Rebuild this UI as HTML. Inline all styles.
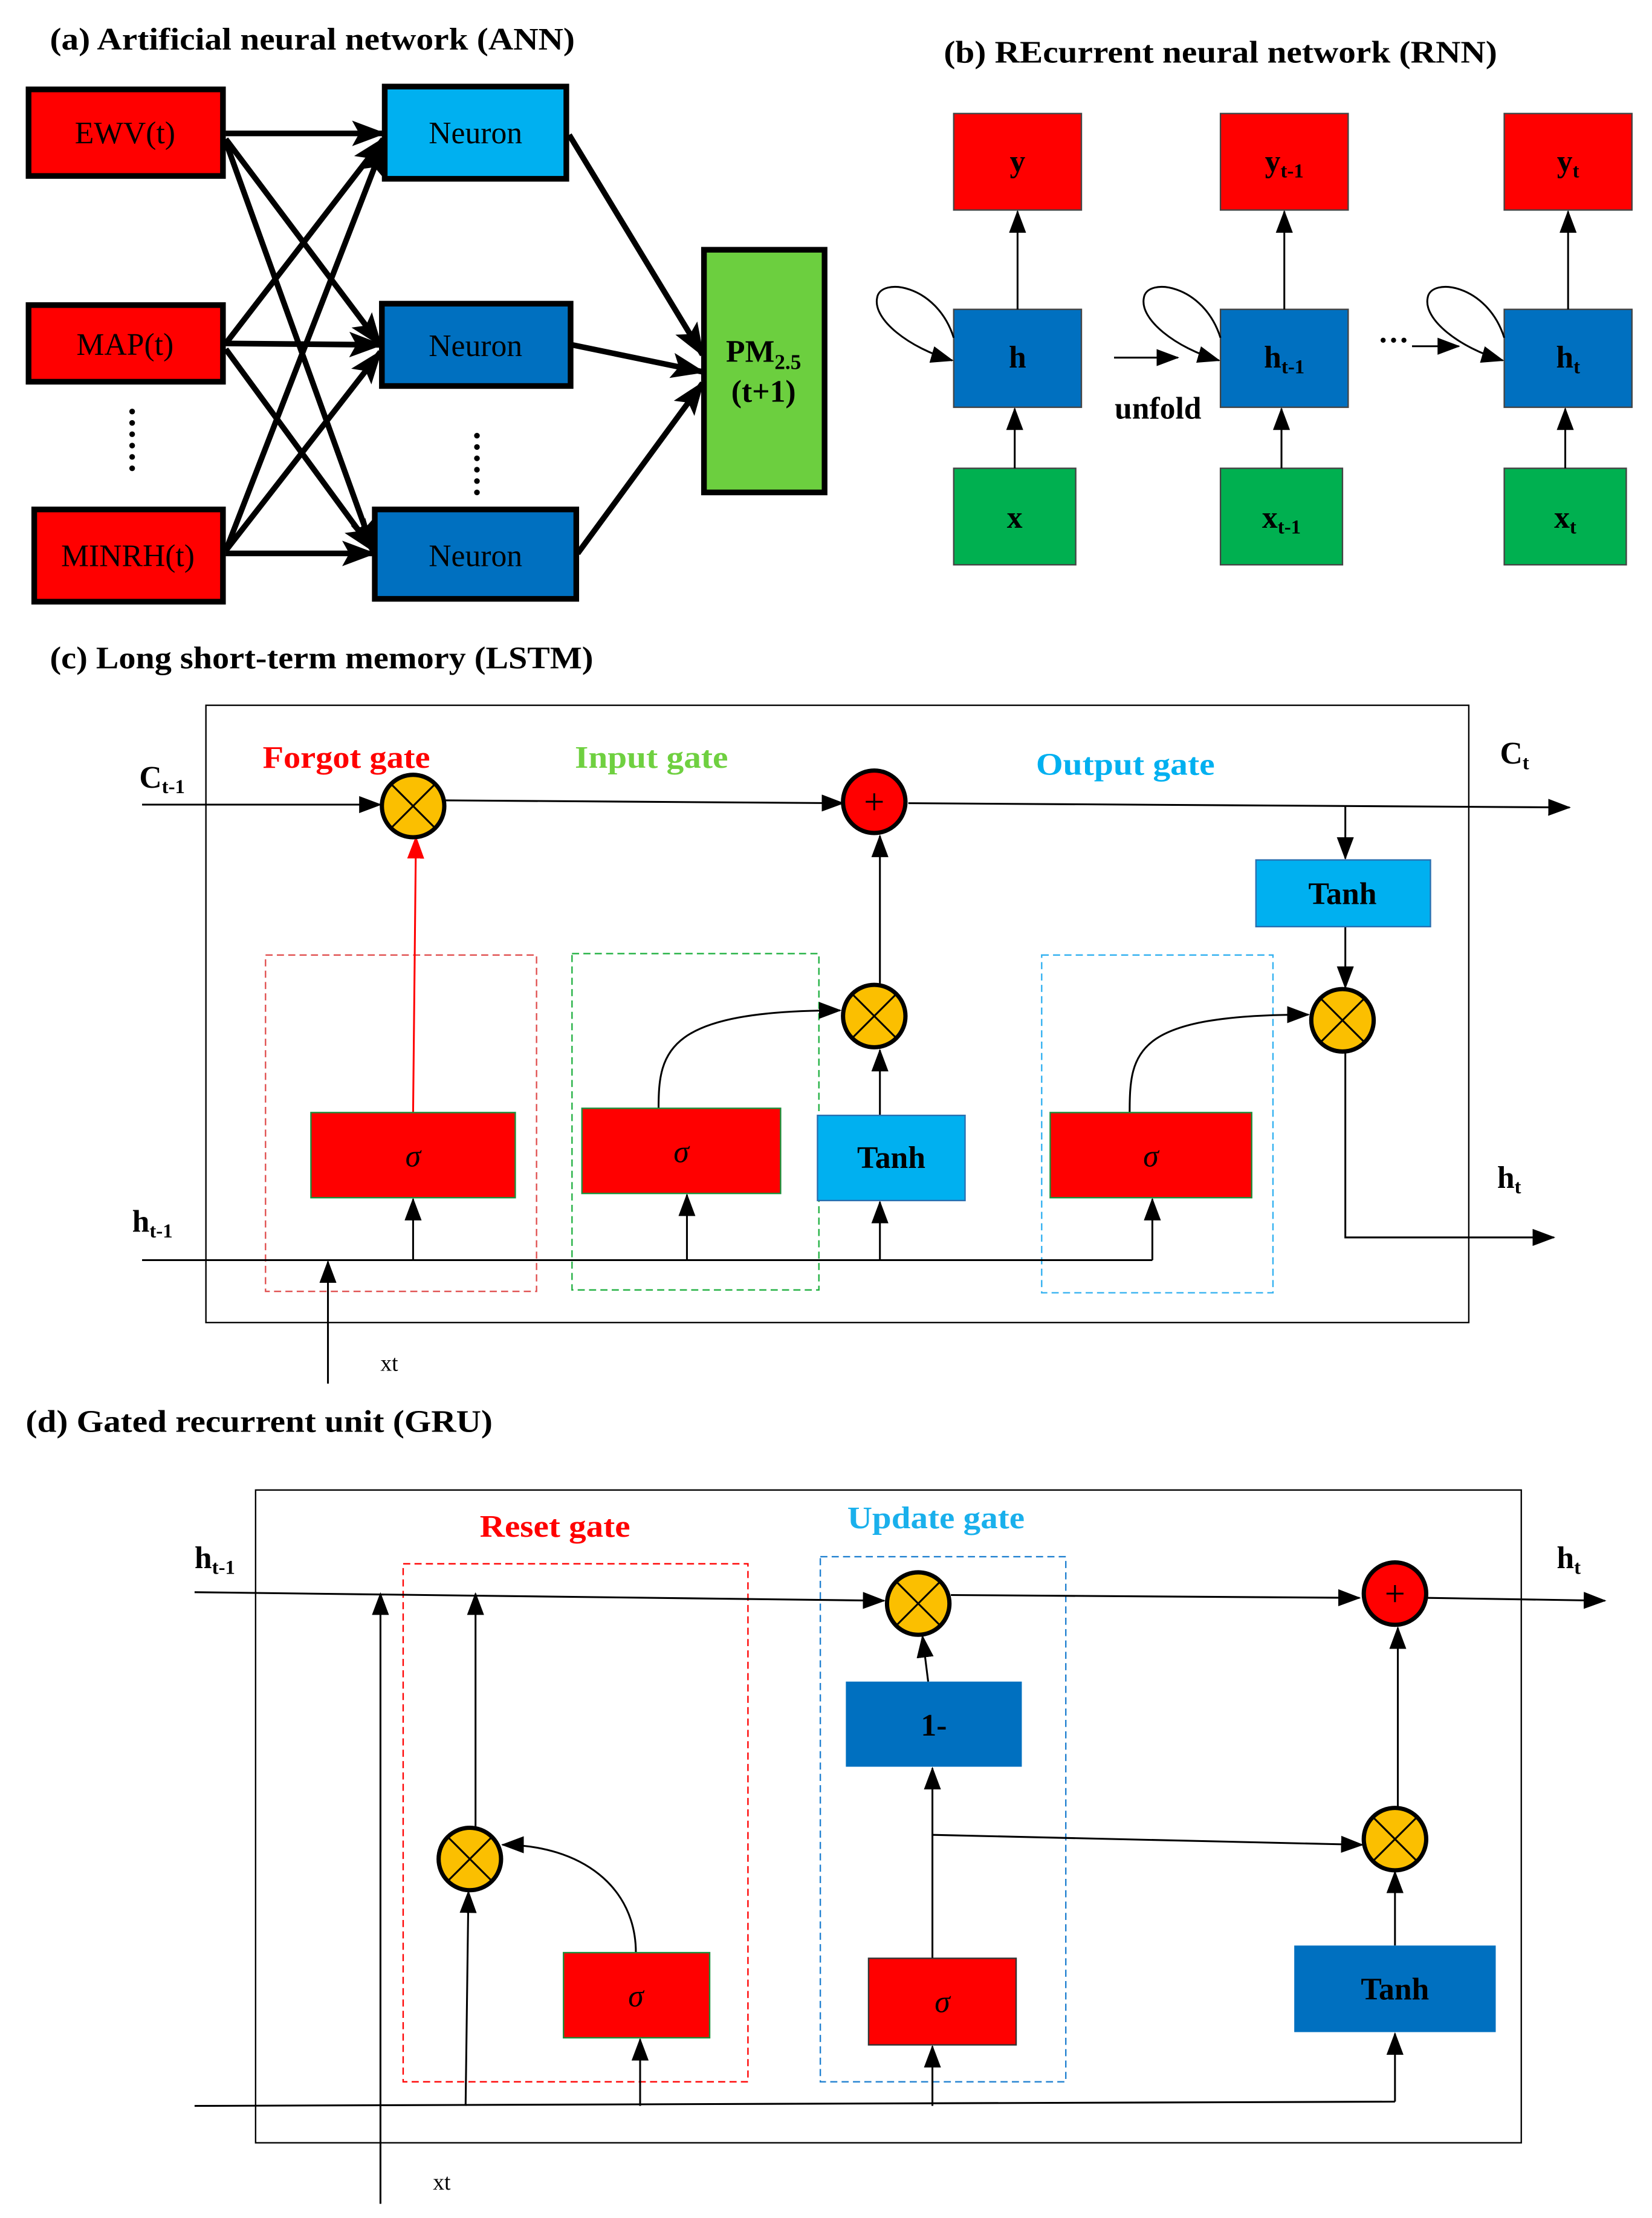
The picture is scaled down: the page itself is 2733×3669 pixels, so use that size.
<!DOCTYPE html>
<html><head><meta charset="utf-8"><style>
html,body{margin:0;padding:0;background:#fff}
svg{display:block}
text{font-family:"Liberation Serif",serif}
</style></head><body>
<svg width="2733" height="3669" viewBox="0 0 1164 1563" xmlns="http://www.w3.org/2000/svg">
<defs>
<marker id="a" markerWidth="16" markerHeight="12" refX="15" refY="6" orient="auto" markerUnits="userSpaceOnUse"><path d="M0,0 L16,6 L0,12 Z" fill="#000"/></marker>
<marker id="ab" markerWidth="24" markerHeight="18" refX="22" refY="9" orient="auto" markerUnits="userSpaceOnUse"><path d="M0,0 L24,9 L0,18 L5,9 Z" fill="#000"/></marker>
<marker id="ar" markerWidth="16" markerHeight="12" refX="15" refY="6" orient="auto" markerUnits="userSpaceOnUse"><path d="M0,0 L16,6 L0,12 Z" fill="#f00"/></marker>
</defs>
<rect width="1164" height="1563" fill="#fff"/>
<!-- (a) -->
<text x="35" y="35" font-size="22" font-weight="bold" textLength="370" lengthAdjust="spacingAndGlyphs">(a) Artificial neural network (ANN)</text>
<g stroke="#000" stroke-width="4">
<rect x="20" y="63" width="137" height="61" fill="#f00"/>
<rect x="20" y="215" width="137" height="54" fill="#f00"/>
<rect x="24" y="359" width="133" height="65" fill="#f00"/>
<rect x="271" y="61" width="128" height="65" fill="#00b0f0"/>
<rect x="269" y="214" width="133" height="58" fill="#0070c0"/>
<rect x="264" y="359" width="142" height="63" fill="#0070c0"/>
<rect x="496" y="176" width="85" height="171" fill="#6ccf3f"/>
</g>
<g font-size="22" text-anchor="middle">
<text x="88" y="101">EWV(t)</text><text x="88" y="250">MAP(t)</text><text x="90" y="399">MINRH(t)</text>
<text x="335" y="101">Neuron</text><text x="335" y="251">Neuron</text><text x="335" y="399">Neuron</text>
<text x="538" y="255" font-weight="bold">PM<tspan font-size="15" dy="5">2.5</tspan></text>
<text x="538" y="283" font-weight="bold">(t+1)</text>
</g>
<g fill="#000"><circle cx="93" cy="290" r="2"/><circle cx="93" cy="298" r="2"/><circle cx="93" cy="306" r="2"/><circle cx="93" cy="314" r="2"/><circle cx="93" cy="322" r="2"/><circle cx="93" cy="330" r="2"/>
<circle cx="336" cy="307" r="2"/><circle cx="336" cy="315" r="2"/><circle cx="336" cy="323" r="2"/><circle cx="336" cy="331" r="2"/><circle cx="336" cy="339" r="2"/><circle cx="336" cy="347" r="2"/></g>
<g stroke="#000" stroke-width="4" marker-end="url(#ab)">
<line x1="159" y1="94" x2="270" y2="94"/><line x1="159" y1="98" x2="268" y2="243"/><line x1="159" y1="100" x2="263" y2="388"/>
<line x1="159" y1="242" x2="270" y2="98"/><line x1="159" y1="242" x2="268" y2="243"/><line x1="159" y1="246" x2="263" y2="388"/>
<line x1="159" y1="388" x2="270" y2="102"/><line x1="159" y1="388" x2="268" y2="248"/><line x1="159" y1="390" x2="263" y2="390"/>
<line x1="401" y1="95" x2="495" y2="250"/><line x1="403" y1="243" x2="495" y2="262"/><line x1="407" y1="390" x2="495" y2="270"/>
</g>
<!-- (b) -->
<text x="665" y="44" font-size="22" font-weight="bold" textLength="390" lengthAdjust="spacingAndGlyphs">(b) REcurrent neural network (RNN)</text>
<g stroke="#444" stroke-width="1">
<rect x="672" y="80" width="90" height="68" fill="#f00"/><rect x="860" y="80" width="90" height="68" fill="#f00"/><rect x="1060" y="80" width="90" height="68" fill="#f00"/>
<rect x="672" y="218" width="90" height="69" fill="#0070c0"/><rect x="860" y="218" width="90" height="69" fill="#0070c0"/><rect x="1060" y="218" width="90" height="69" fill="#0070c0"/>
<rect x="672" y="330" width="86" height="68" fill="#00b050"/><rect x="860" y="330" width="86" height="68" fill="#00b050"/><rect x="1060" y="330" width="86" height="68" fill="#00b050"/>
</g>
<g font-size="22" font-weight="bold" text-anchor="middle">
<text x="717" y="121">y</text><text x="905" y="121">y<tspan font-size="14" dy="4">t-1</tspan></text><text x="1105" y="121">y<tspan font-size="14" dy="4">t</tspan></text>
<text x="717" y="259">h</text><text x="905" y="259">h<tspan font-size="14" dy="4">t-1</tspan></text><text x="1105" y="259">h<tspan font-size="14" dy="4">t</tspan></text>
<text x="715" y="372">x</text><text x="903" y="372">x<tspan font-size="14" dy="4">t-1</tspan></text><text x="1103" y="372">x<tspan font-size="14" dy="4">t</tspan></text>
<text x="816" y="295">unfold</text>
<text x="982" y="247">···</text>
</g>
<g stroke="#000" stroke-width="1.3" fill="none" marker-end="url(#a)">
<line x1="717" y1="218" x2="717" y2="149"/><line x1="905" y1="218" x2="905" y2="149"/><line x1="1105" y1="218" x2="1105" y2="149"/>
<line x1="715" y1="330" x2="715" y2="288"/><line x1="903" y1="330" x2="903" y2="288"/><line x1="1103" y1="330" x2="1103" y2="288"/>
<path d="M672,238 C660,200 620,195 618,210 C615,225 640,245 671,254"/>
<path d="M860,238 C848,200 808,195 806,210 C803,225 828,245 859,254"/>
<path d="M1060,238 C1048,200 1008,195 1006,210 C1003,225 1028,245 1059,254"/>
<line x1="785" y1="252" x2="830" y2="252"/><line x1="995" y1="244" x2="1028" y2="244"/>
</g>
<!-- (c) -->
<text x="35" y="471" font-size="22" font-weight="bold" textLength="383" lengthAdjust="spacingAndGlyphs">(c) Long short-term memory (LSTM)</text>
<rect x="145" y="497" width="890" height="435" fill="none" stroke="#000" stroke-width="1"/>
<g fill="none" stroke-width="1" stroke-dasharray="5,3">
<rect x="187" y="673" width="191" height="237" stroke="#e05050"/>
<rect x="403" y="672" width="174" height="237" stroke="#20b040"/>
<rect x="734" y="673" width="163" height="238" stroke="#30b0f0"/>
</g>
<g font-size="22" font-weight="bold">
<text x="185" y="541" fill="#f00" textLength="118" lengthAdjust="spacingAndGlyphs">Forgot gate</text>
<text x="405" y="541" fill="#6fd040" textLength="108" lengthAdjust="spacingAndGlyphs">Input gate</text>
<text x="730" y="546" fill="#00b0f0" textLength="126" lengthAdjust="spacingAndGlyphs">Output gate</text>
<text x="98" y="555" fill="#000">C<tspan font-size="14" dy="4">t-1</tspan></text>
<text x="1057" y="538" fill="#000">C<tspan font-size="14" dy="4">t</tspan></text>
<text x="1055" y="837" fill="#000">h<tspan font-size="14" dy="4">t</tspan></text>
<text x="93" y="868" fill="#000">h<tspan font-size="14" dy="4">t-1</tspan></text>
</g>
<text x="268" y="966" font-size="16">xt</text>
<g stroke="#000" stroke-width="1.3" fill="none" marker-end="url(#a)">
<line x1="100" y1="567" x2="268" y2="567"/>
<line x1="313" y1="564" x2="594" y2="566"/>
<line x1="640" y1="566" x2="1106" y2="569"/>
<line x1="948" y1="568" x2="948" y2="605"/>
<line x1="948" y1="653" x2="948" y2="696"/>
<polyline points="948,741 948,872 1095,872"/>
<line x1="620" y1="694" x2="620" y2="589"/>
<line x1="620" y1="786" x2="620" y2="740"/>
<path d="M464,781 C464,740 470,712 592,712"/>
<path d="M796,784 C796,740 800,715 922,715"/>
<line x1="100" y1="888" x2="812" y2="888" marker-end="none"/>
<line x1="812" y1="888" x2="812" y2="845"/>
<line x1="291" y1="888" x2="291" y2="845"/>
<line x1="484" y1="888" x2="484" y2="842"/>
<line x1="620" y1="888" x2="620" y2="847"/>
<line x1="231" y1="975" x2="231" y2="889"/>
</g>
<line x1="291" y1="784" x2="293" y2="590" stroke="#f00" stroke-width="1.3" marker-end="url(#ar)"/>
<g stroke="#1a8f3a" stroke-width="1">
<rect x="219" y="784" width="144" height="60" fill="#f00"/>
<rect x="410" y="781" width="140" height="60" fill="#f00"/>
<rect x="740" y="784" width="142" height="60" fill="#f00"/>
</g>
<rect x="576" y="786" width="104" height="60" fill="#00b0f0" stroke="#2a6fb0" stroke-width="1"/>
<rect x="885" y="606" width="123" height="47" fill="#00b0f0" stroke="#2a6fb0" stroke-width="1"/>
<g font-size="22" text-anchor="middle">
<text x="291" y="822" font-style="italic">σ</text><text x="480" y="819" font-style="italic">σ</text><text x="811" y="822" font-style="italic">σ</text>
<text x="628" y="823" font-weight="bold">Tanh</text><text x="946" y="637" font-weight="bold">Tanh</text>
</g>
<!-- (d) -->
<text x="18" y="1009" font-size="22" font-weight="bold" textLength="329" lengthAdjust="spacingAndGlyphs">(d) Gated recurrent unit (GRU)</text>
<rect x="180" y="1050" width="892" height="460" fill="none" stroke="#000" stroke-width="1"/>
<g fill="none" stroke-width="1" stroke-dasharray="5,3">
<rect x="284" y="1102" width="243" height="365" stroke="#f00"/>
<rect x="578" y="1097" width="173" height="370" stroke="#2080d0"/>
</g>
<g font-size="22" font-weight="bold">
<text x="338" y="1083" fill="#f00" textLength="106" lengthAdjust="spacingAndGlyphs">Reset gate</text>
<text x="597" y="1077" fill="#1ab0ec" textLength="125" lengthAdjust="spacingAndGlyphs">Update gate</text>
<text x="137" y="1105" fill="#000">h<tspan font-size="14" dy="4">t-1</tspan></text>
<text x="1097" y="1105" fill="#000">h<tspan font-size="14" dy="4">t</tspan></text>
</g>
<text x="305" y="1543" font-size="16">xt</text>
<g stroke="#000" stroke-width="1.3" fill="none" marker-end="url(#a)">
<line x1="137" y1="1122" x2="623" y2="1128"/>
<line x1="670" y1="1124" x2="958" y2="1126"/>
<line x1="1006" y1="1126" x2="1131" y2="1128"/>
<line x1="137" y1="1484" x2="983" y2="1481" marker-end="none"/>
<line x1="983" y1="1481" x2="983" y2="1433"/>
<line x1="328" y1="1484" x2="330" y2="1333"/>
<line x1="451" y1="1484" x2="451" y2="1437"/>
<line x1="657" y1="1484" x2="657" y2="1442"/>
<line x1="335" y1="1288" x2="335" y2="1123"/>
<path d="M448,1376 C448,1330 410,1300 354,1300"/>
<line x1="657" y1="1380" x2="657" y2="1246"/>
<line x1="654" y1="1185" x2="650" y2="1153"/>
<line x1="657" y1="1293" x2="960" y2="1300"/>
<line x1="985" y1="1274" x2="985" y2="1147"/>
<line x1="983" y1="1371" x2="983" y2="1319"/>
<line x1="268" y1="1553" x2="268" y2="1123"/>
</g>
<rect x="397" y="1376" width="103" height="60" fill="#f00" stroke="#1a8f3a" stroke-width="1"/>
<rect x="612" y="1380" width="104" height="61" fill="#f00" stroke="#333" stroke-width="1"/>
<rect x="596" y="1185" width="124" height="60" fill="#0070c0"/>
<rect x="912" y="1371" width="142" height="61" fill="#0070c0"/>
<g font-size="22" text-anchor="middle">
<text x="448" y="1414" font-style="italic">σ</text><text x="664" y="1418" font-style="italic">σ</text>
<text x="658" y="1223" font-weight="bold">1-</text><text x="983" y="1409" font-weight="bold">Tanh</text>
</g>
<g stroke="#000" stroke-width="3">
<g fill="#fbbf00">
<circle cx="291" cy="568" r="22"/><circle cx="616" cy="716" r="22"/><circle cx="946" cy="719" r="22"/>
<circle cx="331" cy="1310" r="22"/><circle cx="647" cy="1130" r="22"/><circle cx="983" cy="1296" r="22"/>
</g>
<g fill="#f00"><circle cx="616" cy="565" r="22"/><circle cx="983" cy="1123" r="22"/></g>
</g>
<g stroke="#000" stroke-width="1.3">
<path d="M276,553 L306,583 M306,553 L276,583"/>
<path d="M601,701 L631,731 M631,701 L601,731"/>
<path d="M931,704 L961,734 M961,704 L931,734"/>
<path d="M316,1295 L346,1325 M346,1295 L316,1325"/>
<path d="M632,1115 L662,1145 M662,1115 L632,1145"/>
<path d="M968,1281 L998,1311 M998,1281 L968,1311"/>
<path d="M610,565 L622,565 M616,559 L616,571"/>
<path d="M977,1123 L989,1123 M983,1117 L983,1129"/>
</g>
</svg>
</body></html>
